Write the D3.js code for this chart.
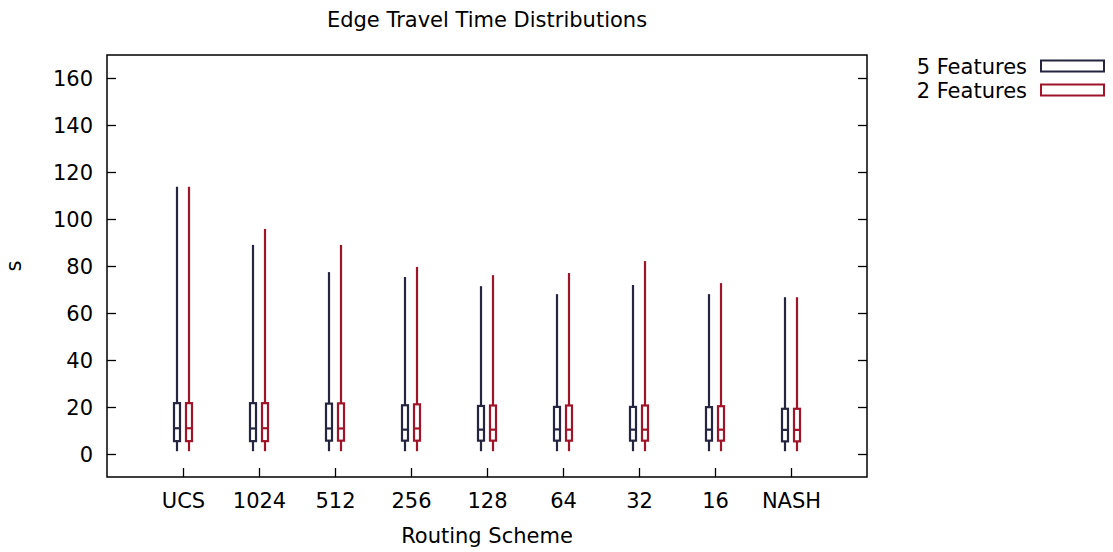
<!DOCTYPE html>
<html>
<head>
<meta charset="utf-8">
<script src="https://cdn.jsdelivr.net/npm/d3@7"></script>
<style>
  body { margin: 0; background: #fff; }
  svg text { font-family: "DejaVu Sans", sans-serif; fill: #000; }
</style>
</head>
<body>
<svg width="1113" height="552"></svg>
<script>
var categories = ['UCS', '1024', '512', '256', '128', '64', '32', '16', 'NASH'];
var seriesNames = ['5 Features', '2 Features'];
var seriesColors = ['#25253f', '#a0142a'];

// box stats per scheme: [whisker low, q1, median, q3, whisker high]
var fiveFeatures = [
  [1, 5.3, 10.8, 21.5, 113.8],
  [1, 5.3, 10.7, 21.5, 89],
  [1, 5.5, 10.7, 21.3, 77.4],
  [1, 5.5, 10.2, 20.6, 75.3],
  [1, 5.5, 10.2, 20.3, 71.4],
  [1, 5.5, 10.3, 19.9, 68],
  [1, 5.5, 10.2, 19.9, 71.9],
  [1, 5.5, 10.2, 19.8, 68],
  [1, 5.2, 10.1, 19.1, 66.7]
];
var twoFeatures = [
  [1, 5.3, 10.8, 21.5, 113.8],
  [1, 5.3, 10.8, 21.5, 95.8],
  [1, 5.5, 10.7, 21.4, 89],
  [1, 5.5, 10.7, 21, 79.6],
  [1, 5.5, 10.2, 20.5, 76.1],
  [1, 5.5, 10.2, 20.5, 77],
  [1, 5.5, 10.2, 20.5, 82.1],
  [1, 5.5, 10.2, 20.2, 72.7],
  [1, 5.2, 10.1, 19.1, 66.7]
];
var yTicks = [0, 20, 40, 60, 80, 100, 120, 140, 160];

var svg = d3.select('svg');
var plotLeft = 107, plotRight = 867, plotTop = 55, plotBottom = 477;
var fontSize = 21;

var x = d3.scaleLinear().domain([0, categories.length + 1]).range([plotLeft, plotRight]);
var y = d3.scaleLinear().domain([-10, 170]).range([plotBottom, plotTop]);

var tickLen = 9;

// frame
svg.append('rect')
  .attr('x', plotLeft).attr('y', plotTop)
  .attr('width', plotRight - plotLeft).attr('height', plotBottom - plotTop)
  .attr('fill', 'none').attr('stroke', '#000').attr('stroke-width', 1.5);

// y ticks, mirrored on the right
yTicks.forEach(function (t) {
  var py = Math.round(y(t)) + 0.5;
  svg.append('line').attr('x1', plotLeft).attr('x2', plotLeft + tickLen).attr('y1', py).attr('y2', py)
    .attr('stroke', '#000').attr('stroke-width', 1.3);
  svg.append('line').attr('x1', plotRight - tickLen).attr('x2', plotRight).attr('y1', py).attr('y2', py)
    .attr('stroke', '#000').attr('stroke-width', 1.3);
  svg.append('text').attr('x', plotLeft - 14).attr('y', py + 7.5)
    .attr('text-anchor', 'end').attr('font-size', fontSize).text(t);
});

// x ticks (bottom only) and labels
categories.forEach(function (c, i) {
  var px = Math.round(x(i + 1)) + 0.5;
  svg.append('line').attr('x1', px).attr('x2', px).attr('y1', plotBottom).attr('y2', plotBottom - tickLen)
    .attr('stroke', '#000').attr('stroke-width', 1.3);
  svg.append('text').attr('x', px).attr('y', 508)
    .attr('text-anchor', 'middle').attr('font-size', fontSize).text(c);
});

// boxes
var offsets = [-6, 6];
var boxW = 6;
[fiveFeatures, twoFeatures].forEach(function (series, s) {
  var g = svg.append('g').attr('stroke', seriesColors[s]).attr('stroke-width', 2.2).attr('fill', 'none');
  series.forEach(function (d, i) {
    var cx = x(i + 1) + offsets[s];
    g.append('line').attr('x1', cx).attr('x2', cx).attr('y1', y(d[0])).attr('y2', y(d[1]));
    g.append('line').attr('x1', cx).attr('x2', cx).attr('y1', y(d[3])).attr('y2', y(d[4]));
    g.append('rect').attr('x', cx - boxW / 2).attr('y', y(d[3]))
      .attr('width', boxW).attr('height', y(d[1]) - y(d[3])).attr('fill', '#fff');
    g.append('line').attr('x1', cx - boxW / 2).attr('x2', cx + boxW / 2)
      .attr('y1', y(d[2])).attr('y2', y(d[2]));
  });
});

// title and axis labels
svg.append('text').attr('x', 487).attr('y', 27).attr('text-anchor', 'middle')
  .attr('font-size', fontSize).text('Edge Travel Time Distributions');
svg.append('text').attr('x', 487).attr('y', 543).attr('text-anchor', 'middle')
  .attr('font-size', fontSize).text('Routing Scheme');
svg.append('text').attr('transform', 'translate(21,266) rotate(-90)')
  .attr('text-anchor', 'middle').attr('font-size', fontSize).text('s');

// legend
seriesNames.forEach(function (name, i) {
  var ly = 66 + i * 24;
  svg.append('text').attr('x', 1027).attr('y', ly + 7.5).attr('text-anchor', 'end')
    .attr('font-size', fontSize).text(name);
  svg.append('rect').attr('x', 1041).attr('y', ly - 5.5).attr('width', 63).attr('height', 11)
    .attr('fill', 'none').attr('stroke', seriesColors[i]).attr('stroke-width', 2);
});
</script>
</body>
</html>
